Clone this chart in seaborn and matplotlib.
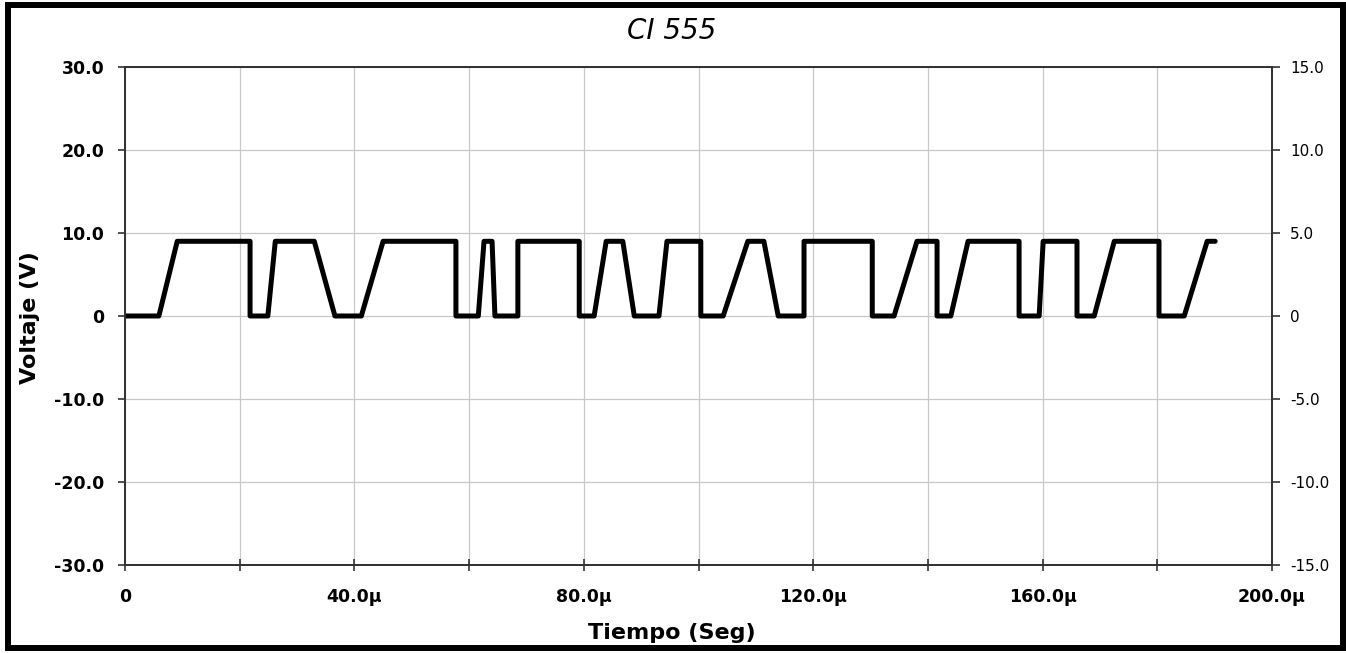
import pandas as pd
import seaborn as sns
import matplotlib
matplotlib.use("Agg")
import matplotlib.pyplot as plt
from matplotlib.patches import Rectangle

# breakpoints of the 555 output, time in microseconds
t_us = [0.0, 5.9, 9.1, 21.8, 21.8, 24.9, 26.2, 33.0, 36.6, 41.2, 45.0, 57.7,
        57.7, 61.6, 62.6, 64.0, 64.5, 68.5, 68.5, 79.2, 79.2, 81.8, 83.9, 86.8,
        88.8, 93.1, 94.5, 100.4, 100.4, 104.3, 108.6, 111.4, 113.9, 118.4, 118.4,
        130.3, 130.3, 134.1, 138.1, 141.6, 141.6, 144.0, 147.0, 155.9, 155.9,
        159.4, 160.1, 166.0, 166.0, 169.0, 172.5, 180.3, 180.3, 184.7, 188.7, 190.1]
volts = [0, 0, 9, 9, 0, 0, 9, 9, 0, 0, 9, 9,
         0, 0, 9, 9, 0, 0, 9, 9, 0, 0, 9, 9,
         0, 0, 9, 9, 0, 0, 9, 9, 0, 0, 9,
         9, 0, 0, 9, 9, 0, 0, 9, 9, 0,
         0, 9, 9, 0, 0, 9, 9, 0, 0, 9, 9]

x_ticks = [0, 20, 40, 60, 80, 100, 120, 140, 160, 180, 200]
x_labels = ["0", "", "40.0\u00b5", "", "80.0\u00b5", "", "120.0\u00b5", "",
            "160.0\u00b5", "", "200.0\u00b5"]
y_ticks = [-30, -20, -10, 0, 10, 20, 30]
y_labels = ["-30.0", "-20.0", "-10.0", "0", "10.0", "20.0", "30.0"]
y2_ticks = [-15, -10, -5, 0, 5, 10, 15]
y2_labels = ["-15.0", "-10.0", "-5.0", "0", "5.0", "10.0", "15.0"]

sns.set_style("white")
plt.rcParams['font.family'] = ['DejaVu Sans']
plt.rcParams['text.color'] = 'black'
plt.rcParams['xtick.color'] = 'black'
plt.rcParams['ytick.color'] = 'black'

df = pd.DataFrame({"t": t_us, "v": volts})

W, H = 1346, 653
fig = plt.figure(figsize=(13.46, 6.53), dpi=100)
ax = fig.add_axes([0.0929, 0.1348, 0.8521, 0.7626])

sns.lineplot(data=df, x="t", y="v", sort=False, estimator=None,
             color="black", linewidth=3.6, ax=ax, zorder=3)

ax.set_xlim(0, 200)
ax.set_ylim(-30, 30)
ax.set_xticks(x_ticks)
ax.set_xticklabels(x_labels, fontweight="bold", fontsize=12.5)
ax.set_yticks(y_ticks)
ax.set_yticklabels(y_labels, fontweight="bold", fontsize=12.5)
ax.grid(True, color="#c8c8c8", linewidth=0.9)
ax.tick_params(axis="x", direction="inout", length=9, width=1.2,
               color="#333333", pad=12, bottom=True)
ax.tick_params(axis="y", direction="out", length=5, width=1.2,
               color="#333333", pad=10, left=True)
for side in ["left", "right", "top", "bottom"]:
    ax.spines[side].set_color("#333333")
    ax.spines[side].set_linewidth(1.3)

ax.set_xlabel("")
ax.set_ylabel("")
fig.text(672 / W, 1 - 633 / H, "Tiempo (Seg)", fontsize=16, fontweight="bold",
         ha="center", va="center")
fig.text(30 / W, 1 - 318 / H, "Voltaje (V)", fontsize=16, fontweight="bold",
         rotation=90, ha="center", va="center")
fig.text(672 / W, 1 - 31 / H, "CI 555", fontsize=20, fontstyle="italic",
         ha="center", va="center")

ax2 = ax.twinx()
ax2.set_ylim(-15, 15)
ax2.set_yticks(y2_ticks)
ax2.set_yticklabels(y2_labels, fontsize=11)
ax2.tick_params(axis="y", direction="out", length=6, width=1.2,
                color="#333333", pad=7, right=True)
for side in ["left", "right", "top", "bottom"]:
    ax2.spines[side].set_color("#333333")
    ax2.spines[side].set_linewidth(1.3)

# black frame around the whole picture
fig.patches.append(Rectangle((8 / W, 5 / H), (1343 - 8) / W, (648.5 - 5) / H,
                             transform=fig.transFigure, fill=False,
                             edgecolor="black", linewidth=4.3))

fig.savefig("out.png", dpi=100)
